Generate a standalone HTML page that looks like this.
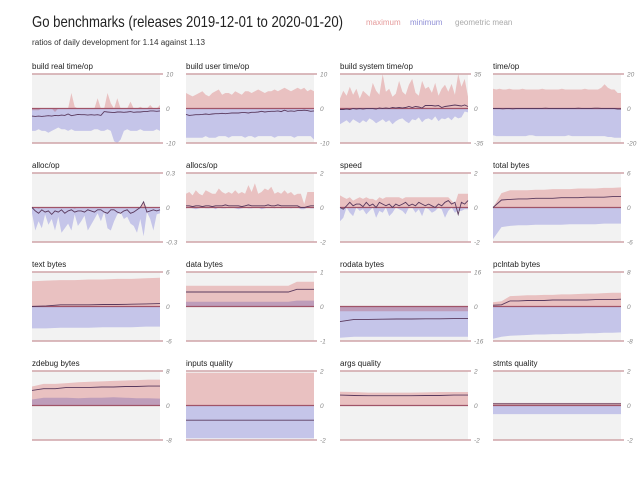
<!DOCTYPE html>
<html><head><meta charset="utf-8"><style>
body{margin:0;background:#fff;width:640px;height:494px;overflow:hidden;font-family:"Liberation Sans",sans-serif}
svg{display:block}
</style></head><body>
<svg id="c" width="640" height="494">
<text x="32" y="27" font-size="16" textLength="311" lengthAdjust="spacingAndGlyphs" fill="#222">Go benchmarks (releases 2019-12-01 to 2020-01-20)</text>
<text x="32" y="45" font-size="8" textLength="173" lengthAdjust="spacingAndGlyphs" fill="#333">ratios of daily development for 1.14 against 1.13</text>
<text x="366" y="25" font-size="8" fill="#e59a9a">maximum</text>
<text x="410" y="25" font-size="8" fill="#8f8fd6">minimum</text>
<text x="455" y="25" font-size="8" fill="#aaa">geometric mean</text>
</svg>
<script>
const titles=["build real time/op","build user time/op","build system time/op","time/op","alloc/op","allocs/op","speed","total bytes","text bytes","data bytes","rodata bytes","pclntab bytes","zdebug bytes","inputs quality","args quality","stmts quality"];
const limits=[10,10,35,20,0.3,2,2,6,6,1,16,8,8,2,2,2];
const limLabels=["10","10","35","20","0.3","2","2","6","6","1","16","8","8","2","2","2"];
const maxVals=[
[-0.5,-0.5,-0.5,0,0,0,0,-1,0,0,0,0,4.5,0.5,0,0,0,0,0,0,3,0,0,4.5,1.5,0,3,0,0,0,2,0,0,0.5,0,0,1,0,0,1],
[4.5,4,3.5,4,4.5,5,4,3.5,4.5,5,5.5,4,4.5,4.5,4,5,4.5,4,5,5,4.5,5,5.5,5,4.5,5,5,5.5,5,5.5,6,5.5,5,5.5,6,5.5,6,5,5.5,5],
[10,18,13,22,14,20,10,18,15,12,26,18,14,35,17,20,12,15,28,17,14,24,30,16,13,28,20,22,16,26,13,20,24,17,25,14,35,22,30,12],
[11.5,11,11.5,11,11,11.5,11,11,11,11.5,11,11,11,11,11,11.5,11,11,11,11,11,11.5,11,11,11,11,11,11,11.5,11,11,11,11,12,14,12,11,11,9,9],
[0,0,-0.01,0,0,0,0,0,0,0,0,0,0,-0.01,0,0,0,0,0,0,0,0,0,0,0,0,0,0,0,0,0,0,0,0,0.05,0,0,0,0,0],
[0.8,0.9,0.7,1,0.8,0.7,1,0.9,0.8,0.8,1.1,0.9,0.8,0.9,0.8,1,0.8,0.9,0.8,1.3,0.9,1.4,0.8,0.9,1.1,1,1.2,0.8,0.9,0.8,1,0.8,0.9,0.7,0.8,0.8,0.2,0.9,0.9,0.9],
[0.7,0.6,0.5,0.6,0.4,0.5,0.6,0.5,0.6,0.5,0.5,0.4,0.6,0.5,0.6,0.6,0.6,0.6,0.6,0.5,0.6,0.6,0.6,0.6,0.6,0.6,0.6,0.6,0.6,0.6,0.6,0.6,0.6,0.6,0.4,0.2,0.8,0.8,0.8,0.8],
[0,2.5,3,3,3,3.1,3.1,3.2,3.2,3.2,3.3,3.3,3.3,3.4,3.4,3.5],
[4.4,4.5,4.6,4.6,4.7,4.7,4.8,4.8,4.9,5],
[0.6,0.6,0.6,0.6,0.6,0.6,0.6,0.6,0.6,0.6,0.6,0.6,0.6,0.72,0.72,0.72],
[-2.2,-2.2,-2.2,-2.2,-2.2,-2.2,-2.2,-2.2,-2.2,-2.2],
[1,1.2,2.4,2.5,2.6,2.6,2.7,2.7,2.8,2.8,2.9,3,3,3.1,3.2,3.2],
[4.4,5,5,5.2,5.4,5.5,5.6,5.7,5.8,5.9,6,6],
[1.9,1.9,1.9,1.9,1.9,1.9,1.9,1.9],
[0.8,0.78,0.75,0.75,0.75,0.75,0.76,0.78,0.78,0.78],
[0.15,0.15,0.15,0.15,0.15,0.15,0.15,0.15]];
const minVals=[
[-6.5,-6.5,-6,-6.5,-6.5,-7,-6.5,-6,-5.5,-6,-6,-6.5,-6,-6.5,-6.5,-6.5,-6.5,-6.5,-6.5,-6,-6,-6.5,-6.5,-6,-6.5,-9.5,-10,-9,-6.5,-6,-6.5,-6.5,-6.5,-6,-6.5,-6.5,-6.5,-6.5,-6,-6.5],
[-8.5,-8.5,-8.5,-8.5,-8.5,-8.5,-8,-8.5,-8.5,-8.5,-8,-8,-8,-8.5,-8,-8,-8,-8,-8.5,-8,-8,-8.5,-8,-8,-8,-8,-8,-8.5,-8,-8,-8,-8,-8,-8.5,-8,-8,-8,-8,-8,-9],
[-16,-14,-12,-15,-11,-13,-15,-12,-14,-10,-12,-15,-13,-11,-14,-12,-16,-13,-11,-10,-13,-15,-11,-12,-9,-14,-11,-10,-12,-8,-13,-10,-11,-9,-12,-8,-10,-9,-3,-4],
[-15.5,-16,-16,-16,-16,-16,-16,-16,-16,-16,-16,-15.5,-15.5,-16,-16,-16,-16,-16,-16,-16,-16,-16,-16,-15.5,-16,-16,-16,-16,-16,-16,-16,-16,-16,-16,-16,-16.5,-16.5,-17,-17,-17],
[-0.05,-0.2,-0.12,-0.18,-0.06,-0.15,-0.1,-0.2,-0.08,-0.22,-0.18,-0.14,-0.2,-0.06,-0.16,-0.12,-0.07,-0.2,-0.15,-0.1,-0.05,-0.12,-0.04,-0.18,-0.2,-0.12,-0.06,-0.04,-0.1,-0.08,-0.14,-0.16,-0.22,-0.1,-0.25,-0.04,-0.1,-0.2,-0.06,-0.05],
[-0.05,0,-0.05,-0.1,-0.05,0,-0.05,-0.05,0,-0.1,0,-0.05,-0.05,0,0,-0.05,-0.1,-0.05,0,-0.05,-0.05,0,0,-0.1,-0.05,0,0,-0.05,0,-0.05,0,0,-0.05,0,0,-0.1,-0.1,0,-0.05,-0.05],
[-0.8,-0.6,0,-0.3,-0.5,0,-0.2,-0.1,-0.4,-0.2,0,-0.6,-0.2,-0.3,0,-0.5,-0.3,0,-0.1,-0.2,-0.4,0,0,-0.3,-0.1,-0.5,0,-0.1,-0.3,-0.2,0,-0.1,-0.6,-0.2,0,-0.3,-0.2,-0.2,-0.1,-0.1],
[-5.5,-3.4,-3.2,-3.1,-3.1,-3,-3,-3,-3,-2.9,-2.9,-2.9,-2.9,-2.8,-2.8,-2.8],
[-3.8,-3.8,-3.7,-3.7,-3.7,-3.6,-3.6,-3.6,-3.5,-3.5],
[0.14,0.14,0.14,0.14,0.14,0.14,0.14,0.14,0.14,0.14,0.14,0.14,0.14,0.17,0.17,0.17],
[-14.5,-14,-14,-14,-14,-14,-14,-14,-14,-14],
[-7.5,-7,-6.8,-6.7,-6.6,-6.5,-6.5,-6.4,-6.4,-6.3,-6.3,-6.2,-6.2,-6.1,-6.1,-6],
[1.4,1.8,1.8,1.8,1.7,1.8,1.8,1.9,1.8,1.7,1.7,1.6],
[-1.9,-1.9,-1.9,-1.9,-1.9,-1.9,-1.9,-1.9],
[0,0,0,0,0,0,0,0,0,0],
[-0.5,-0.5,-0.5,-0.5,-0.5,-0.5,-0.5,-0.5]];
const meanVals=[
[-2.2,-2.3,-2.2,-2.3,-2.2,-2.1,-2.2,-2,-2.1,-1.9,-2,-1.6,-2.1,-1.9,-1.7,-1.8,-1.8,-1.9,-1.8,-1.9,-1.8,-2,-0.9,-1,-1.1,-1.2,-1,-1,-1.1,-1,-0.9,-1.1,-1,-1,-0.9,-0.9,-0.7,-0.7,-0.8,-0.7],
[-1.7,-2,-1.9,-1.8,-1.8,-1.7,-1.6,-1.7,-1.6,-1.5,-1.5,-1.4,-1.5,-1.4,-1.3,-1.3,-1.3,-1.2,-1.2,-1.3,-1.1,-1.1,-1,-0.8,-1,-0.9,-0.8,-0.8,-0.7,-0.9,-0.5,-0.8,-0.7,-0.8,-0.6,-0.6,-0.5,-0.6,-0.8,-0.7],
[-1,-1,-0.5,-1,0,-0.5,0,-0.5,0,0,0,-0.5,0.5,0,0.5,0,1,0.5,1,0.5,1,2,1,2,1.5,0.5,3,3,3,2.5,3,1,2,2.5,3,3.5,3,2.5,3.5,2],
[0,0,0,-0.2,0,0,-0.2,0,0,0,0,0,0,0,0,0,0.2,0,0,0,0,0,0,0,0,0,0.2,0,0,0,0,0.2,0.2,0,0,0,0,0,-0.3,-0.3],
[0,-0.03,-0.05,-0.02,-0.04,-0.03,-0.06,-0.03,-0.04,-0.02,-0.05,-0.03,-0.02,-0.04,-0.03,-0.03,-0.04,-0.02,-0.03,-0.04,-0.02,-0.02,-0.04,-0.05,-0.02,-0.02,-0.04,-0.05,-0.03,-0.02,-0.05,-0.04,-0.02,0,0.05,-0.04,-0.03,-0.02,-0.03,-0.02],
[0.1,0.1,0.05,0.1,0.1,0.05,0.1,0.1,0.05,0.1,0.1,0.1,0.15,0.1,0.1,0.1,0.1,0.05,0.1,0.15,0.1,0.1,0.1,0.1,0.1,0.15,0.1,0.1,0.15,0.1,0.1,0.1,0.1,0.1,0.1,0,0,0.05,0.1,0.1],
[0,-0.1,0.1,0.3,0.1,0.2,0.2,0.05,0.3,0.1,0.2,0,0.3,0.2,0.1,0.2,0,0.2,0.1,0.2,0.3,0.1,0.2,0.1,0.3,0.2,0.1,0.2,0.1,0,0.2,0.1,0.3,0.4,0.2,0.3,-0.4,0.3,0.2,0.4],
[0,1.3,1.4,1.5,1.5,1.6,1.6,1.6,1.7,1.7,1.7,1.8,1.8,1.8,1.9,1.9],
[0,0.1,0.3,0.3,0.3,0.35,0.35,0.4,0.45,0.5],
[0.42,0.42,0.42,0.42,0.42,0.42,0.42,0.42,0.42,0.42,0.42,0.42,0.42,0.5,0.5,0.5],
[-7,-6,-6,-5.9,-5.8,-5.8,-5.7,-5.7,-5.6,-5.6],
[0.3,0.4,1.3,1.3,1.4,1.4,1.4,1.5,1.5,1.5,1.5,1.5,1.6,1.6,1.6,1.7],
[3.5,3.9,3.9,4.2,4.2,4.2,4.3,4.3,4.4,4.4,4.5,4.5],
[-0.85,-0.85,-0.85,-0.85,-0.85,-0.85,-0.85,-0.85],
[0.6,0.58,0.57,0.57,0.57,0.57,0.58,0.58,0.6,0.6],
[0.1,0.1,0.1,0.1,0.1,0.1,0.1,0.1]];

const svg=document.getElementById('c');
const NS='http://www.w3.org/2000/svg';
const colX=[32,186,340,493], rowTop=[74,173,272,371], W=128, H=69;
function mk(tag,attrs,parent){const e=document.createElementNS(NS,tag);for(const k in attrs)e.setAttribute(k,attrs[k]);(parent||svg).appendChild(e);return e;}
titles.forEach((t,i)=>{
  const x0=colX[i%4], y0=rowTop[Math.floor(i/4)], L=limits[i];
  const g=mk('g',{});
  
  
  const sx=(k,n)=>x0+k*W/(n-1);
  const sy=v=>y0+H/2-v/L*(H/2);
  const bg=mk('rect',{x:x0,y:y0,width:W,height:H,fill:'#f2f2f2'},g);
  
  
  const area=(arr,fill,name)=>{let d='M'+sx(0,arr.length)+','+sy(0);arr.forEach((v,k)=>d+='L'+sx(k,arr.length).toFixed(1)+','+sy(v).toFixed(1));d+='L'+sx(arr.length-1,arr.length)+','+sy(0)+'Z';const p=mk('path',{d:d,fill:fill,style:'mix-blend-mode:multiply'},g);};
  area(maxVals[i],'#f6cccc','maximum-area');
  area(minVals[i],'#d0d0f6','minimum-area');
  const z=mk('line',{x1:x0,x2:x0+W,y1:sy(0),y2:sy(0),stroke:'#a05468','stroke-width':1.2},g);
  
  
  const m=meanVals[i];
  const ml=mk('polyline',{points:m.map((v,k)=>sx(k,m.length).toFixed(1)+','+sy(v).toFixed(1)).join(' '),fill:'none',stroke:'#5a3a5e','stroke-width':0.9},g);
  
  
  [L,-L].forEach((v,j)=>{
    const ln=mk('line',{x1:x0,x2:x0+W+3,y1:sy(v),y2:sy(v),stroke:'#cfa4a8','stroke-width':1.5},g);
    
    
    const tx=mk('text',{x:x0+W+6,y:sy(v)+2.5,'font-size':6.5,'font-style':'italic',fill:'#888'},g);
    tx.textContent=(j?'-':'')+limLabels[i];
    
    
  });
  const zt=mk('text',{x:x0+W+6,y:sy(0)+2.5,'font-size':6.5,'font-style':'italic',fill:'#888'},g);
  zt.textContent='0';
  
  
  const tt=mk('text',{x:x0,y:y0-5,'font-size':8,fill:'#222'},g);
  tt.textContent=t;
  
  
});
</script>
</body></html>
